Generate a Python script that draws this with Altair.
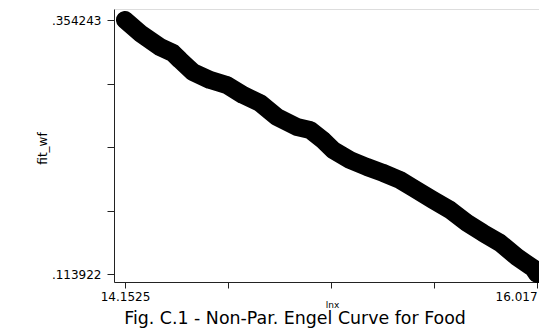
import altair as alt
import pandas as pd

# Data (fitted Engel curve)
lnx = [14.1525, 14.2204, 14.3109, 14.3697, 14.4014, 14.4602, 14.5371, 14.6140,
       14.6864, 14.7634, 14.8403, 14.9308, 14.9896, 15.0484, 15.0937, 15.1706,
       15.2475, 15.3199, 15.3968, 15.4557, 15.5462, 15.6231, 15.7000, 15.7724,
       15.8493, 15.9262, 15.9986, 16.017]
fit_wf = [0.354243, 0.3419, 0.3287, 0.3230, 0.3164, 0.3050, 0.2975, 0.2927,
          0.2833, 0.2757, 0.2625, 0.2530, 0.2502, 0.2407, 0.2313, 0.2218,
          0.2152, 0.2096, 0.2029, 0.1954, 0.1840, 0.1746, 0.1623, 0.1528,
          0.1434, 0.1300, 0.1196, 0.113922]

x_ticks = [14.1525, 14.618625, 15.08475, 15.550875, 16.017]
x_tick_labels = ["14.1525", "", "", "", "16.017"]
y_ticks = [0.113922, 0.17400225, 0.2340825, 0.29416275, 0.354243]
y_tick_labels = [".113922", "", "", "", ".354243"]

caption = "Fig. C.1 - Non-Par. Engel Curve for Food"

df = pd.DataFrame({"lnx": lnx, "fit_wf": fit_wf})

def label_expr(vals, labs):
    expr = "''"
    for v, l in zip(vals, labs):
        if l:
            expr = f"abs(datum.value - {v}) < 1e-6 ? '{l}' : ({expr})"
    return expr

FONT = "DejaVu Sans"

xenc = alt.X("lnx:Q",
             scale=alt.Scale(domain=[14.10273, 16.02585], nice=False, zero=False),
             axis=alt.Axis(values=x_ticks, labelExpr=label_expr(x_ticks, x_tick_labels),
                           grid=False, tickSize=6, labelPadding=3, labelFontSize=12,
                           labelFont=FONT, labelColor="black", domainColor="#222",
                           tickColor="#222", labelFlush=3, labelOverlap=False,
                           title="lnx", titleFont=FONT, titleFontSize=9,
                           titleFontWeight="normal", titleX=218, titleY=22,
                           titleBaseline="middle", titleColor="black"))
yenc = alt.Y("fit_wf:Q",
             scale=alt.Scale(domain=[0.10637, 0.36465], nice=False, zero=False),
             axis=alt.Axis(values=y_ticks, labelExpr=label_expr(y_ticks, y_tick_labels),
                           grid=False, tickSize=7, labelPadding=6, labelFontSize=12,
                           labelFont=FONT, labelColor="black", domainColor="#222",
                           tickColor="#222", labelOverlap=False, labelFlush=False,
                           title="fit_wf", titleFont=FONT, titleFontSize=12,
                           titleFontWeight="normal", titleX=-72, titleY=139,
                           titleBaseline="middle", titleAlign="center",
                           titleColor="black"))

base = alt.Chart(df).encode(x=xenc, y=yenc)
band = base.mark_line(color="black", strokeWidth=18, strokeCap="round",
                      strokeJoin="round")
dots = base.mark_circle(color="black", opacity=1, size=290)

cap = alt.Chart(pd.DataFrame({"t": [caption]})).mark_text(
    font=FONT, fontSize=17.4, color="black", align="center", baseline="alphabetic"
).encode(x=alt.value(181), y=alt.value(315), text="t:N")

chart = alt.layer(band, dots, cap).properties(
    width=425, height=273,
    autosize=alt.AutoSizeParams(type="none"),
    padding={"left": 114, "top": 9, "right": 0, "bottom": 51},
).configure_view(stroke=None).configure(background="white")

chart.save("out.html", embed_options={"renderer": "svg", "actions": False})
